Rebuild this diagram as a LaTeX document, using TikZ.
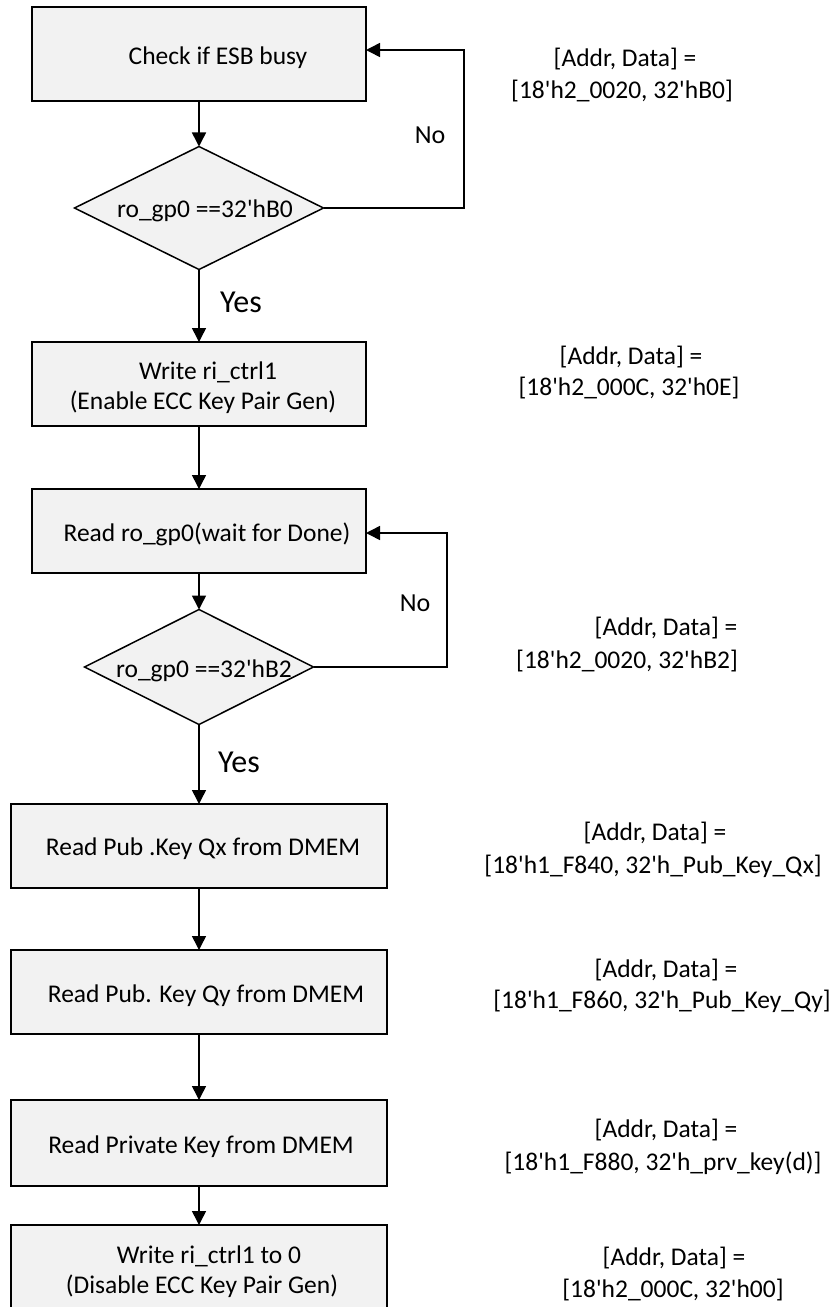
\documentclass[tikz,border=0pt]{standalone}
\usepackage{fontspec}
\newfontfamily\calfont{Carlito}
\usetikzlibrary{arrows.meta,shapes.geometric}
\definecolor{boxfill}{HTML}{F2F2F2}
\begin{document}
\begin{tikzpicture}[x=1pt,y=-1pt,
  every node/.style={font=\calfont\fontsize{25.5}{30}\selectfont, inner sep=0pt, outer sep=0pt},
  box/.style={draw=black, fill=boxfill, line width=1.5pt, rectangle},
  dia/.style={draw=black, fill=boxfill, line width=1.5pt, diamond},
  txt/.style={anchor=base},
  yn/.style={anchor=base, font=\calfont\fontsize{32}{36}\selectfont},
  no/.style={anchor=base, font=\calfont\fontsize{26}{30}\selectfont},
  arr/.style={line width=1.5pt, -{Triangle[length=14pt,width=14pt]}},
]
\useasboundingbox (0,0) rectangle (831,1307);
\clip (0,0) rectangle (831,1307);

% boxes and diamonds
\node[box, minimum width=334pt, minimum height=94pt] (b1) at (199,54) {};
\node[dia, minimum width=249pt, minimum height=123pt] (d1) at (199,208) {};
\node[box, minimum width=334pt, minimum height=84pt] (b2) at (199,384) {};
\node[box, minimum width=334pt, minimum height=84pt] (b3) at (199,531) {};
\node[dia, minimum width=229pt, minimum height=115pt] (d2) at (199,667) {};
\node[box, minimum width=376pt, minimum height=84pt] (b4) at (199,846) {};
\node[box, minimum width=376pt, minimum height=84pt] (b5) at (199,992) {};
\node[box, minimum width=376pt, minimum height=86pt] (b6) at (199,1143) {};
\node[box, minimum width=376pt, minimum height=110pt] (b7) at (199,1280) {};

% texts in shapes
\node[txt] (t1) at (218,64) {Check if ESB busy};
\node[txt] (td1) at (205,217) {ro\_gp0 ==32'hB0};
\node[txt] (t2a) at (208,379) {Write ri\_ctrl1};
\node[txt] (t2b) at (203,409) {(Enable ECC Key Pair Gen)};
\node[txt] (t3) at (207,541) {Read ro\_gp0(wait for Done)};
\node[txt] (td2) at (204,677) {ro\_gp0 ==32'hB2};
\node[txt] (t4) at (203,855) {Read Pub .Key Qx from DMEM};
\node[txt] (t5) at (206,1002) {Read Pub. Key Qy from DMEM};
\node[txt] (t6) at (201,1153) {Read Private Key from DMEM};
\node[txt] (t7a) at (209,1263) {Write ri\_ctrl1 to 0};
\node[txt] (t7b) at (202,1293) {(Disable ECC Key Pair Gen)};

% Yes / No labels
\node[yn] (y1) at (241,312) {Yes};
\node[yn] (y2) at (239,772) {Yes};
\node[no] (n1) at (430,143) {No};
\node[no] (n2) at (415,611) {No};

% right-hand labels
\node[txt] (l1a) at (625,66) {[Addr, Data] =};
\node[txt] (l1b) at (622,98) {[18'h2\_0020, 32'hB0]};
\node[txt] (l2a) at (631,364) {[Addr, Data] =};
\node[txt] (l2b) at (629,395) {[18'h2\_000C, 32'h0E]};
\node[txt] (l3a) at (666,635) {[Addr, Data] =};
\node[txt] (l3b) at (627,668) {[18'h2\_0020, 32'hB2]};
\node[txt] (l4a) at (655,840) {[Addr, Data] =};
\node[txt] (l4b) at (653,873) {[18'h1\_F840, 32'h\_Pub\_Key\_Qx]};
\node[txt] (l5a) at (666,977) {[Addr, Data] =};
\node[txt] (l5b) at (662,1008) {[18'h1\_F860, 32'h\_Pub\_Key\_Qy]};
\node[txt] (l6a) at (666,1137) {[Addr, Data] =};
\node[txt] (l6b) at (663,1170) {[18'h1\_F880, 32'h\_prv\_key(d)]};
\node[txt] (l7a) at (674,1265) {[Addr, Data] =};
\node[txt] (l7b) at (673,1297) {[18'h2\_000C, 32'h00]};

% connectors
\draw[arr] (b1) -- (d1);
\draw[arr] (d1) -- (b2);
\draw[arr] (b2) -- (b3);
\draw[arr] (b3) -- (d2);
\draw[arr] (d2) -- (b4);
\draw[arr] (b4) -- (b5);
\draw[arr] (b5) -- (b6);
\draw[arr] (b6) -- (b7);

\coordinate (c1) at (464,50);
\draw[arr] (d1.east) -| (c1) -- (b1.east |- c1);
\coordinate (c2) at (447,533);
\draw[arr] (d2.east) -| (c2) -- (b3.east |- c2);
\end{tikzpicture}
\end{document}
